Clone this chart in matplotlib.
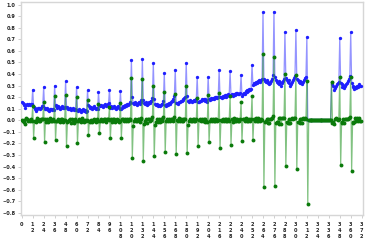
import matplotlib
matplotlib.use("Agg")
import matplotlib.pyplot as plt
import numpy as np

# blue series, one row per 12 points
blue = [
    0.155, 0.150, 0.135, 0.140, 0.110, 0.130, 0.140, 0.135, 0.140, 0.130, 0.145, 0.140,
    0.265, 0.115, 0.105, 0.095, 0.080, 0.100, 0.110, 0.105, 0.095, 0.110, 0.120, 0.128,
    0.288, 0.100, 0.110, 0.095, 0.105, 0.090, 0.080, 0.100, 0.095, 0.085, 0.100, 0.093,
    0.300, 0.130, 0.120, 0.110, 0.125, 0.115, 0.100, 0.110, 0.120, 0.105, 0.110, 0.117,
    0.337, 0.117, 0.105, 0.095, 0.100, 0.110, 0.090, 0.100, 0.105, 0.085, 0.095, 0.088,
    0.288, 0.090, 0.080, 0.095, 0.085, 0.070, 0.090, 0.095, 0.080, 0.085, 0.075, 0.080,
    0.259, 0.134, 0.125, 0.110, 0.115, 0.100, 0.105, 0.120, 0.110, 0.095, 0.105, 0.100,
    0.241, 0.130, 0.120, 0.135, 0.125, 0.115, 0.130, 0.140, 0.125, 0.135, 0.145, 0.150,
    0.265, 0.110, 0.120, 0.105, 0.115, 0.125, 0.110, 0.100, 0.115, 0.120, 0.105, 0.100,
    0.250, 0.100, 0.110, 0.120, 0.115, 0.130, 0.125, 0.140, 0.135, 0.145, 0.150, 0.158,
    0.524, 0.198, 0.150, 0.140, 0.155, 0.145, 0.135, 0.150, 0.160, 0.145, 0.155, 0.173,
    0.533, 0.178, 0.150, 0.140, 0.155, 0.135, 0.145, 0.160, 0.150, 0.165, 0.170, 0.196,
    0.496, 0.184, 0.145, 0.130, 0.140, 0.125, 0.135, 0.120, 0.130, 0.145, 0.140, 0.165,
    0.410, 0.133, 0.125, 0.140, 0.135, 0.150, 0.145, 0.160, 0.170, 0.165, 0.180, 0.210,
    0.438, 0.146, 0.150, 0.140, 0.160, 0.155, 0.170, 0.165, 0.180, 0.175, 0.190, 0.203,
    0.496, 0.210, 0.170, 0.160, 0.175, 0.165, 0.155, 0.170, 0.165, 0.175, 0.170, 0.182,
    0.375, 0.155, 0.160, 0.170, 0.165, 0.180, 0.175, 0.185, 0.170, 0.180, 0.175, 0.160,
    0.375, 0.185, 0.175, 0.190, 0.180, 0.195, 0.185, 0.200, 0.190, 0.205, 0.195, 0.200,
    0.438, 0.198, 0.205, 0.195, 0.210, 0.200, 0.215, 0.205, 0.220, 0.210, 0.225, 0.219,
    0.426, 0.215, 0.225, 0.210, 0.230, 0.220, 0.235, 0.225, 0.240, 0.230, 0.225, 0.235,
    0.390, 0.213, 0.225, 0.240, 0.230, 0.250, 0.245, 0.260, 0.255, 0.270, 0.265, 0.273,
    0.480, 0.306, 0.320, 0.310, 0.330, 0.320, 0.340, 0.330, 0.345, 0.335, 0.350, 0.357,
    0.933, 0.353, 0.340, 0.330, 0.345, 0.320, 0.335, 0.310, 0.325, 0.340, 0.360, 0.396,
    0.940, 0.374, 0.350, 0.335, 0.320, 0.340, 0.310, 0.330, 0.300, 0.320, 0.340, 0.357,
    0.760, 0.367, 0.350, 0.330, 0.345, 0.320, 0.300, 0.315, 0.335, 0.350, 0.370, 0.386,
    0.780, 0.360, 0.345, 0.330, 0.340, 0.320, 0.335, 0.310, 0.330, 0.345, 0.365, 0.378,
    0.720, 0.0, 0.0, 0.0, 0.0, 0.0, 0.0, 0.0, 0.0, 0.0, 0.0, 0.0,
    0.0, 0.0, 0.0, 0.0, 0.0, 0.0, 0.0, 0.0, 0.0, 0.0, 0.0, 0.0,
    0.0, 0.0, 0.0, 0.330, 0.310, 0.295, 0.265, 0.280, 0.300, 0.315, 0.320, 0.335,
    0.710, 0.326, 0.310, 0.290, 0.305, 0.280, 0.295, 0.310, 0.325, 0.340, 0.360, 0.385,
    0.760, 0.324, 0.300, 0.285, 0.270, 0.290, 0.280, 0.300, 0.290, 0.310, 0.300, 0.295,
]

# green series (month-to-month change), one row per 12 points
green = [
    0.000, -0.005, -0.015, 0.005, -0.030, 0.020, 0.010, -0.005, 0.005, -0.010, 0.015, -0.005,
    0.125, -0.150, -0.010, -0.010, -0.015, 0.020, 0.010, -0.005, -0.010, 0.015, 0.010, 0.008,
    0.160, -0.188, 0.010, -0.015, 0.010, -0.015, -0.010, 0.020, -0.005, -0.010, 0.015, -0.007,
    0.207, -0.170, -0.010, -0.010, 0.015, -0.010, -0.015, 0.010, 0.010, -0.015, 0.005, 0.007,
    0.220, -0.220, -0.012, -0.010, 0.005, 0.010, -0.020, 0.010, 0.005, -0.020, 0.010, -0.007,
    0.200, -0.198, -0.010, 0.015, -0.010, -0.015, 0.020, 0.005, -0.015, 0.005, -0.010, 0.005,
    0.179, -0.125, -0.009, -0.015, 0.005, -0.015, 0.005, 0.015, -0.010, -0.015, 0.010, -0.005,
    0.141, -0.111, -0.010, 0.015, -0.010, -0.010, 0.015, 0.010, -0.015, 0.010, 0.010, 0.005,
    0.115, -0.155, 0.010, -0.015, 0.010, 0.010, -0.015, -0.010, 0.015, 0.005, -0.015, -0.005,
    0.150, -0.150, 0.010, 0.010, -0.005, 0.015, -0.005, 0.015, -0.005, 0.010, 0.005, 0.008,
    0.366, -0.326, -0.048, -0.010, 0.015, -0.010, -0.010, 0.015, 0.010, -0.015, 0.010, 0.018,
    0.360, -0.355, -0.028, -0.010, 0.015, -0.020, 0.010, 0.015, -0.010, 0.015, 0.005, 0.026,
    0.300, -0.312, -0.039, -0.015, 0.010, -0.015, 0.010, -0.015, 0.010, 0.015, -0.005, 0.025,
    0.245, -0.277, -0.008, 0.015, -0.005, 0.015, -0.005, 0.015, 0.010, -0.005, 0.015, 0.030,
    0.228, -0.292, 0.004, -0.010, 0.020, -0.005, 0.015, -0.005, 0.015, -0.005, 0.015, 0.013,
    0.293, -0.286, -0.040, -0.010, 0.015, -0.010, -0.010, 0.015, -0.005, 0.010, -0.005, 0.012,
    0.193, -0.220, 0.005, 0.010, -0.005, 0.015, -0.005, 0.010, -0.015, 0.010, -0.005, -0.015,
    0.215, -0.190, -0.010, 0.015, -0.010, 0.015, -0.010, 0.015, -0.010, 0.015, -0.010, 0.005,
    0.238, -0.240, 0.007, -0.010, 0.015, -0.010, 0.015, -0.010, 0.015, -0.010, 0.015, -0.006,
    0.207, -0.211, 0.010, -0.015, 0.020, -0.010, 0.015, -0.010, 0.015, -0.010, -0.005, 0.010,
    0.155, -0.177, 0.012, 0.015, -0.010, 0.020, -0.005, 0.015, -0.005, 0.015, -0.005, 0.008,
    0.207, -0.174, 0.014, -0.010, 0.020, -0.010, 0.020, -0.010, 0.015, -0.010, 0.015, 0.007,
    0.576, -0.580, -0.013, -0.010, 0.015, -0.025, 0.015, -0.025, 0.015, 0.015, 0.020, 0.036,
    0.544, -0.566, -0.024, -0.015, -0.015, 0.020, -0.030, 0.020, -0.030, 0.020, 0.020, 0.017,
    0.403, -0.393, -0.017, -0.020, 0.015, -0.025, -0.020, 0.015, 0.020, 0.015, 0.020, 0.016,
    0.394, -0.420, -0.015, -0.015, 0.010, -0.020, 0.015, -0.025, 0.020, 0.015, 0.020, 0.013,
    0.342, -0.720, 0.0, 0.0, 0.0, 0.0, 0.0, 0.0, 0.0, 0.0, 0.0, 0.0,
    0.0, 0.0, 0.0, 0.0, 0.0, 0.0, 0.0, 0.0, 0.0, 0.0, 0.0, 0.0,
    0.0, 0.0, 0.0, 0.330, -0.020, -0.015, -0.030, 0.015, 0.020, 0.015, 0.005, 0.015,
    0.375, -0.384, -0.016, -0.020, 0.015, -0.025, 0.015, 0.015, 0.015, 0.015, 0.020, 0.025,
    0.375, -0.436, -0.024, -0.015, -0.015, 0.020, -0.010, 0.020, -0.010, 0.020, -0.010, -0.005,
]

x_ticks = [0, 12, 24, 36, 48, 60, 72, 84, 96, 108, 120, 132, 144, 156, 168, 180,
           192, 204, 216, 228, 240, 252, 264, 276, 288, 300, 312, 324, 336, 348, 360, 372]
y_ticks = [-0.8, -0.7, -0.6, -0.5, -0.4, -0.3, -0.2, -0.1, 0.0,
           0.1, 0.2, 0.3, 0.4, 0.5, 0.6, 0.7, 0.8, 0.9, 1.0]

x = np.arange(len(blue))

fig = plt.figure(figsize=(3.70, 2.45), dpi=100)
ax = fig.add_axes([0.056, 0.124, 0.925, 0.868])

ax.plot(x, blue, color="#4d4dff", lw=0.9, alpha=0.6, zorder=2)
ax.plot(x, blue, "o", ms=2.4, color="#1f1fff", mec="none", zorder=3)
ax.plot(x, green, color="#2e9a2e", lw=0.9, alpha=0.6, zorder=4)
ax.plot(x, green, "o", ms=2.8, color="#0a7a0a", mec="none", zorder=5)

ax.set_xlim(-1.1, 373.4)
ax.set_ylim(-0.815, 1.023)

ax.set_xticks(x_ticks)
ax.set_xticklabels(["\n".join(str(v)) for v in x_ticks], fontsize=3.6,
                   linespacing=1.2, color="#222222", fontweight="bold")
ax.set_yticks(y_ticks)
ax.set_yticklabels([("%.1f" % v).replace("-", "\u2212") if abs(v) > 1e-9 else "0.0"
                    for v in y_ticks], fontsize=3.6, color="#222222", fontweight="bold")

for s in ax.spines.values():
    s.set_color("#d6d6d6")
    s.set_linewidth(1.0)
ax.tick_params(axis="x", length=2.4, width=0.6, color="#c8c8c8", pad=3.0)
ax.tick_params(axis="y", length=2.4, width=0.6, color="#c8c8c8", pad=1.2)

fig.savefig("out.png", dpi=100)
